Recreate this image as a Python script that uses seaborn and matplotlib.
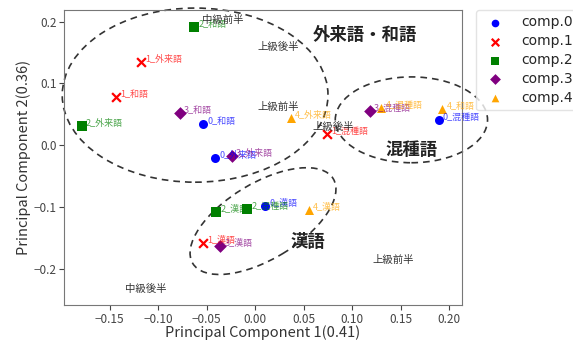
import numpy as np
import pandas as pd
import matplotlib
matplotlib.use("Agg")
import matplotlib.pyplot as plt
import seaborn as sns
from matplotlib.patches import Ellipse
from matplotlib.transforms import Affine2D

# PCA scores
comps = ["comp.0"] * 4 + ["comp.1"] * 4 + ["comp.2"] * 4 + ["comp.3"] * 4 + ["comp.4"] * 4
cats = ["和語", "外来語", "漢語", "混種語",
        "外来語", "和語", "混種語", "漢語",
        "和語", "外来語", "漢語", "混種語",
        "和語", "外来語", "漢語", "混種語",
        "外来語", "混種語", "和語", "漢語"]
pc1 = [-0.054, -0.041, 0.010, 0.189,
       -0.118, -0.144, 0.074, -0.054,
       -0.063, -0.179, -0.040, -0.008,
       -0.078, -0.024, -0.036, 0.118,
       0.037, 0.130, 0.193, 0.055]
pc2 = [0.034, -0.021, -0.099, 0.040,
       0.135, 0.078, 0.018, -0.159,
       0.191, 0.031, -0.108, -0.104,
       0.052, -0.018, -0.164, 0.055,
       0.044, 0.060, 0.058, -0.105]

level_text = ["中級前半", "上級後半", "上級前半", "上級後半", "中級後半", "上級前半"]
level_x = [-0.033, 0.024, 0.024, 0.080, -0.113, 0.142]
level_y = [0.203, 0.159, 0.062, 0.029, -0.233, -0.186]

group_text = ["外来語・和語", "混種語", "漢語"]
group_x = [0.113, 0.161, 0.054]
group_y = [0.178, -0.008, -0.157]

comp_names = ["comp.0", "comp.1", "comp.2", "comp.3", "comp.4"]
colors = {"comp.0": "blue", "comp.1": "red", "comp.2": "green",
          "comp.3": "purple", "comp.4": "orange"}
markers = {"comp.0": "o", "comp.1": "x", "comp.2": "s", "comp.3": "D", "comp.4": "^"}

df = pd.DataFrame({"comp": comps, "cat": cats, "pc1": pc1, "pc2": pc2})

sns.set_style("ticks")
plt.rcParams["font.family"] = ["Noto Sans CJK JP", "DejaVu Sans"]

fig = plt.figure(figsize=(5.73, 3.42), dpi=100)
ax = fig.add_axes([0.112, 0.108, 0.694, 0.863])

# 'x' is line art, so each component goes in on its own
for c in comp_names:
    sub = df[df["comp"] == c]
    if markers[c] == "x":
        sns.scatterplot(data=sub, x="pc1", y="pc2", color=colors[c], marker="x",
                        s=40, linewidth=1.6, label=c, ax=ax, zorder=3)
    else:
        sns.scatterplot(data=sub, x="pc1", y="pc2", color=colors[c], marker=markers[c],
                        s=42, linewidth=0, label=c, ax=ax, zorder=3)

for _, r in df.iterrows():
    ax.annotate(f"{r['comp'][-1]}_{r['cat']}", (r["pc1"], r["pc2"]),
                xytext=(3, 2), textcoords="offset points", fontsize=6.5,
                color=colors[r["comp"]], alpha=0.7, va="center", ha="left")

for t, x, y in zip(level_text, level_x, level_y):
    ax.text(x, y, t, fontsize=7.5, color="#333333", ha="center", va="center")

for t, x, y in zip(group_text, group_x, group_y):
    ax.text(x, y, t, fontsize=12.5, fontweight="bold", color="#222222",
            ha="center", va="center")

ell_kw = dict(fill=False, ls=(0, (4, 3)), lw=1.2, ec="#333333", clip_on=False)
ax.add_patch(Ellipse((-0.062, 0.081), 0.274, 0.282, **ell_kw))
ax.add_patch(Ellipse((0.161, 0.041), 0.157, 0.139, **ell_kw))
# tilted ellipse drawn in pixel-like units, then scaled to data
ax.add_patch(Ellipse((0, 0), 164, 76, angle=31,
                     transform=Affine2D().scale(1 / 970, 1 / 617).translate(0.008, -0.123) + ax.transData,
                     **ell_kw))

ax.set_xlim(-0.197, 0.213)
ax.set_ylim(-0.259, 0.219)
ax.set_xticks([-0.15, -0.10, -0.05, 0.00, 0.05, 0.10, 0.15, 0.20])
ax.set_yticks([-0.2, -0.1, 0.0, 0.1, 0.2])
ax.set_xlabel("Principal Component 1(0.41)", fontsize=10.5, color="#333333", labelpad=0)
ax.set_ylabel("Principal Component 2(0.36)", fontsize=10.5, color="#333333", labelpad=2)
ax.tick_params(labelsize=8.5, colors="#444444", pad=2)
for sp in ax.spines.values():
    sp.set_color("#777777")

ax.legend(loc="upper left", bbox_to_anchor=(1.035, 1.0), fontsize=10,
          frameon=True, edgecolor="#dddddd", borderaxespad=0,
          labelspacing=0.35, handletextpad=0.9, markerscale=0.85,
          prop={"family": "DejaVu Sans", "size": 10})

fig.savefig("out.png", dpi=100)
